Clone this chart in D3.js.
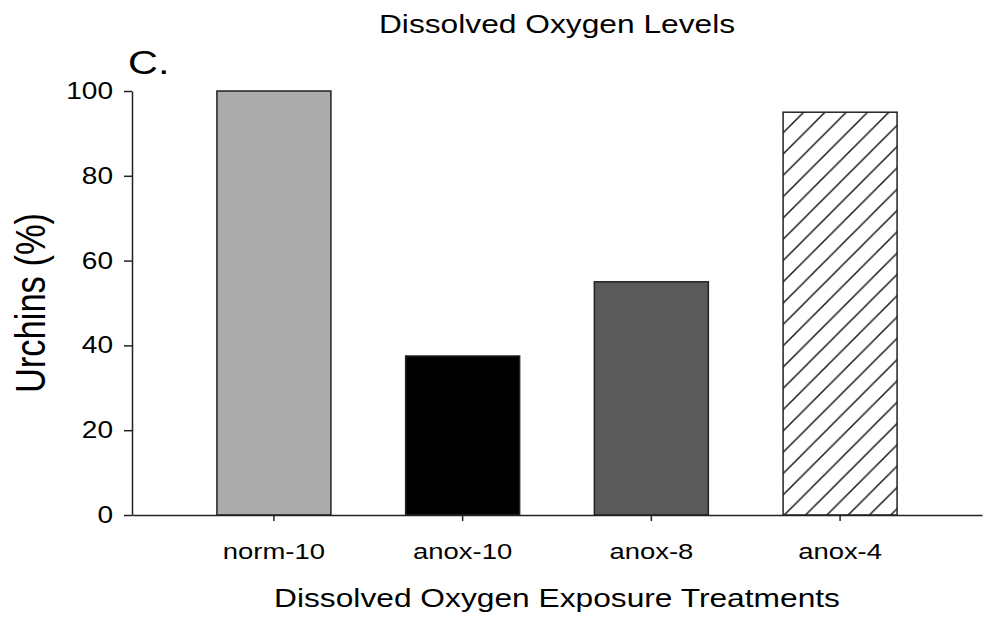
<!DOCTYPE html>
<html>
<head>
<meta charset="utf-8">
<script src="https://cdn.jsdelivr.net/npm/d3@7"></script>
<style>
  html, body { margin: 0; padding: 0; background: #fff; }
  svg { display: block; }
  text { font-family: "Liberation Sans", Arial, sans-serif; fill: #000; }
</style>
</head>
<body>
<svg id="chart" width="990" height="623"></svg>
<script>
// Treatments and percentage of urchins per treatment
const categories = ["norm-10", "anox-10", "anox-8", "anox-4"];
const values = [100, 37.5, 55, 95];
const fills = ["#ababab", "#000000", "#5a5a5a", "url(#hatch)"];
const yTicks = [0, 20, 40, 60, 80, 100];

const W = 990, H = 623;
const plot = { left: 132, right: 982, top: 91, bottom: 515 };
const SX = 1.22; // horizontal text stretch of the figure

const svg = d3.select("#chart");

// diagonal hatch for the last bar
const defs = svg.append("defs");
const hs = 21.3;
const pat = defs.append("pattern")
  .attr("id", "hatch")
  .attr("patternUnits", "userSpaceOnUse")
  .attr("width", hs).attr("height", hs);
pat.append("rect").attr("width", hs).attr("height", hs).attr("fill", "#fff");
pat.append("path")
  .attr("d", `M0,${hs} L${hs},0 M${-hs/2},${hs/2} L${hs/2},${-hs/2} M${hs/2},${hs*1.5} L${hs*1.5},${hs/2}`)
  .attr("stroke", "#111").attr("stroke-width", 1.4);

const x = d3.scaleBand()
  .domain(categories)
  .range([plot.left, plot.right])
  .paddingInner(0.396)
  .paddingOuter(0.45);

const y = d3.scaleLinear()
  .domain([0, 100])
  .range([plot.bottom, plot.top]);

// bars
svg.append("g").selectAll("rect")
  .data(categories)
  .join("rect")
  .attr("x", d => x(d))
  .attr("y", (d, i) => y(values[i]))
  .attr("width", x.bandwidth())
  .attr("height", (d, i) => y(0) - y(values[i]))
  .attr("fill", (d, i) => fills[i])
  .attr("stroke", "#222")
  .attr("stroke-width", 1.5);

// stretched text helper
function label(g, txt, px, py, size, anchor, rotate) {
  return g.append("text")
    .attr("transform", `translate(${px},${py}) scale(${SX},1)` + (rotate ? ` rotate(${rotate})` : ""))
    .attr("text-anchor", anchor)
    .attr("font-size", size)
    .text(txt);
}

// y axis
const yAxis = svg.append("g")
  .attr("transform", `translate(${plot.left},0)`)
  .call(d3.axisLeft(y).tickValues(yTicks).tickSize(8).tickSizeOuter(0).tickFormat(""));
yAxis.selectAll("path, line").attr("stroke", "#222").attr("stroke-width", 1.5);
yTicks.forEach(t => label(svg, String(t), 113, y(t) + 8, 23, "end"));

// x axis
const xAxis = svg.append("g")
  .attr("transform", `translate(0,${plot.bottom})`)
  .call(d3.axisBottom(x).tickSize(6).tickSizeOuter(0).tickFormat(""));
xAxis.selectAll("path, line").attr("stroke", "#222").attr("stroke-width", 1.5);
categories.forEach(c => label(svg, c, x(c) + x.bandwidth() / 2, 559, 22.5, "middle"));

// titles
const cx = (plot.left + plot.right) / 2;
label(svg, "Dissolved Oxygen Levels", cx, 33, 26, "middle");
label(svg, "Dissolved Oxygen Exposure Treatments", cx, 607, 26, "middle");
label(svg, "Urchins (%)", 45, (plot.top + plot.bottom) / 2, 34.5, "middle", -90);
label(svg, "C.", 128, 74, 34, "start");
</script>
</body>
</html>
